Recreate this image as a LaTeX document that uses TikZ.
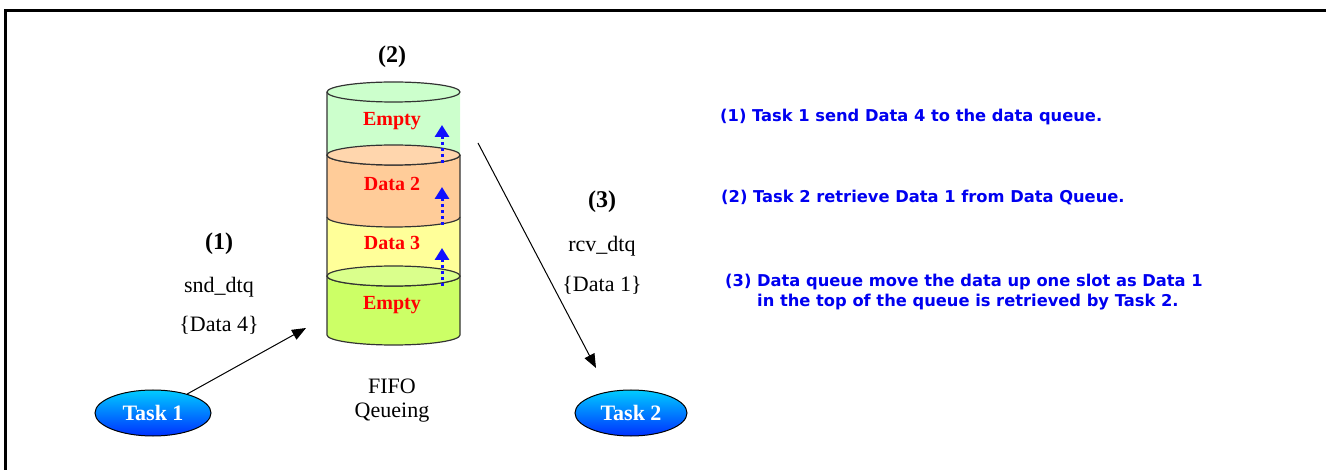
\documentclass[tikz,border=0pt]{standalone}
\usepackage{fontspec}
\setmainfont{Liberation Serif}
\newfontfamily\notefont{DejaVu Sans}
\usetikzlibrary{arrows.meta,shapes.geometric}
\definecolor{topgreen}{HTML}{CCFFCC}
\definecolor{peach}{HTML}{FFD6AD}
\definecolor{dataorange}{HTML}{FFCC99}
\definecolor{lemon}{HTML}{FFFF99}
\definecolor{lowgreen}{HTML}{CCFF66}
\definecolor{lightgreen}{HTML}{DAFF8C}
\definecolor{edge}{HTML}{333333}
\definecolor{taskcyan}{HTML}{00CCFF}
\definecolor{taskblue}{HTML}{0030FF}
\definecolor{noteblue}{HTML}{0000F0}
\definecolor{moveblue}{HTML}{1010FF}

\begin{document}
\begin{tikzpicture}[x=1pt, y=-1pt,
	lbl/.style={font=\fontsize{22}{24}\selectfont},
	stepno/.style={font=\bfseries\fontsize{24}{26}\selectfont},
	slot/.style={text=red, font=\bfseries\fontsize{20}{22}\selectfont},
	task/.style={ellipse, draw=black, line width=1pt, top color=taskcyan, bottom color=taskblue, text=white, font=\bfseries\fontsize{22}{24}\selectfont, minimum width=116, minimum height=46, inner sep=0pt},
	note/.style={anchor=west, inner sep=0pt, text=noteblue, font=\notefont\bfseries\fontsize{16.3}{18}\selectfont},
	moveup/.style={draw=moveblue, line width=3pt, dash pattern=on 3pt off 3pt, -{Triangle[length=12pt, width=14pt]}},
	pass/.style={line width=1pt, -{Triangle[length=14pt, width=11pt]}}]
		\useasboundingbox (0,0) rectangle (1326,470);
		%边框
		\draw[line width=3pt] (5,470)--(5,11)--(1326,11);
		%队列
		\fill[lowgreen] (327,276) arc (180:360:66.5 and 10)--(460,335) arc (0:180:66.5 and 10)--cycle;
		\draw[edge, line width=1.2pt] (327,276)--(327,335) arc (180:0:66.5 and 10)--(460,276);
		\fill[lemon] (327,217) arc (180:360:66.5 and 10)--(460,276) arc (0:180:66.5 and 10)--cycle;
		\draw[edge, line width=1.2pt] (327,217)--(327,276) arc (180:0:66.5 and 10)--(460,217);
		\fill[dataorange] (327,155) arc (180:360:66.5 and 10)--(460,217) arc (0:180:66.5 and 10)--cycle;
		\draw[edge, line width=1.2pt] (327,155)--(327,217) arc (180:0:66.5 and 10)--(460,155);
		\fill[topgreen] (327,92) arc (180:360:66.5 and 10)--(460,155) arc (0:180:66.5 and 10)--cycle;
		\draw[edge, line width=1.2pt] (327,92)--(327,155) arc (180:0:66.5 and 10)--(460,155);
		\filldraw[fill=lightgreen, draw=edge, line width=1.2pt] (393.5,276) ellipse (66.5 and 10);
		\filldraw[fill=peach, draw=edge, line width=1.2pt] (393.5,155) ellipse (66.5 and 10);
		\filldraw[fill=topgreen, draw=edge, line width=1.2pt] (393.5,92) ellipse (66.5 and 10);
		\node[slot] (slot1) at (392,121) {Empty};
		\node[slot] (slot2) at (392,184) {Data 2};
		\node[slot] (slot3) at (392,243) {Data 3};
		\node[slot] (slot4) at (392,305) {Empty};
		%上移
		\coordinate (up1a) at (442,163); \coordinate (up1b) at (442,125);
		\coordinate (up2a) at (442,225); \coordinate (up2b) at (442,187);
		\coordinate (up3a) at (442,286); \coordinate (up3b) at (442,248);
		\draw[moveup] (up1a)--(up1b);
		\draw[moveup] (up2a)--(up2b);
		\draw[moveup] (up3a)--(up3b);
		\node[stepno] (step2) at (392,57) {(2)};
		\node[lbl] (fifo) at (392,386) {FIFO};
		\node[lbl] (qeue) at (392,413) {Qeueing};
		%任务
		\node[task] (task1) at (153,413) {Task 1};
		\node[task, minimum width=112] (task2) at (631,413) {Task 2};
		\node[stepno] (step1) at (219,244) {(1)};
		\node[lbl] (snd) at (219,287) {snd\_dtq};
		\node[lbl] (data4) at (219,325) {\{Data 4\}};
		\node[stepno] (step3) at (602,202) {(3)};
		\node[lbl] (rcv) at (602,246) {rcv\_dtq};
		\node[lbl] (data1) at (602,285) {\{Data 1\}};
		\coordinate (in1) at (306,328);
		\coordinate (out2) at (478,143);
		\coordinate (in2) at (596,368);
		\draw[pass] (task1)--(in1);
		\draw[pass] (out2)--(in2);
		%说明
		\node[note] (note1) at (720,117) {(1) Task 1 send Data 4 to the data queue.};
		\node[note] (note2) at (721,197) {(2) Task 2 retrieve Data 1 from Data Queue.};
		\node[note] (note3) at (725,282) {(3) Data queue move the data up one slot as Data 1};
		\node[note] (note3b) at (757,302) {in the top of the queue is retrieved by Task 2.};
	\end{tikzpicture}
\end{document}
